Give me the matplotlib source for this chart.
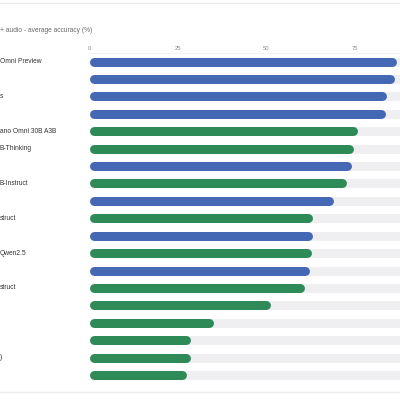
import matplotlib.pyplot as plt

# Visible parts of the model names (the reference is cropped on the left)
labels = ["Omni Preview", "", "s", "", "ano Omni 30B A3B", "B-Thinking", "",
          "B-Instruct", "", "struct", "", "Qwen2.5", "", "struct",
          "", "", "", ")", ""]
scores = [86.6, 86.0, 84.0, 83.5, 75.6, 74.7, 74.1, 72.7, 68.8, 62.9,
          62.9, 62.6, 62.3, 60.9, 51.3, 35.2, 28.5, 28.5, 27.6]
groups = ["b", "b", "b", "b", "g", "g", "b", "g", "b", "g",
          "b", "g", "b", "g", "g", "g", "g", "g", "g"]
ticks = [0, 25, 50, 75]
title = "+ audio - average accuracy (%)"

colors = {"b": "#4468b3", "g": "#2e8a57"}
track_color = "#efeff2"

plt.rcParams["font.family"] = ["Liberation Sans", "DejaVu Sans"]

fig = plt.figure(figsize=(4, 4), dpi=100)
ax = fig.add_axes([0, 0, 1, 1])

# pixel layout: 0 -> 89px, 75 -> 355px ; rows from 61.5px every 17.42px
px_per_unit = (355 - 89) / 75
row_px = 17.42
x_min = -89 / px_per_unit
x_max = (400 - 89) / px_per_unit
ax.set_xlim(x_min, x_max)
ax.set_ylim((400 - 61.5) / row_px, -61.5 / row_px)
ax.axis("off")

bar_h_px = 9
lw = bar_h_px * 72 / 100
r = bar_h_px / 2 / px_per_unit

for i, (lab, val, g) in enumerate(zip(labels, scores, groups)):
    ax.plot([r, 120], [i, i], color=track_color, lw=lw,
            solid_capstyle="round", zorder=1)
    ax.plot([r, val - r], [i, i], color=colors[g], lw=lw,
            solid_capstyle="round", zorder=2)
    if lab:
        ax.text(x_min, i, lab, ha="left", va="center", fontsize=4.8,
                color="#333333")

tick_y = (48 - 61.5) / row_px
for t in ticks:
    ax.text(t, tick_y, str(t), ha="center", va="center", fontsize=4.2,
            color="#8a8a8a")

ax.text(x_min, (31 - 61.5) / row_px, title, ha="left", va="center",
        fontsize=4.8, color="#6a6a6a")

# faint frame lines of the card
ax.axhline((3 - 61.5) / row_px, color="#ececec", lw=1)
ax.axhline((392 - 61.5) / row_px, color="#ececec", lw=1)
ax.plot([0, x_max], [(52.5 - 61.5) / row_px] * 2, color="#f3f3f3", lw=0.8)

fig.savefig("out.png", dpi=100)
